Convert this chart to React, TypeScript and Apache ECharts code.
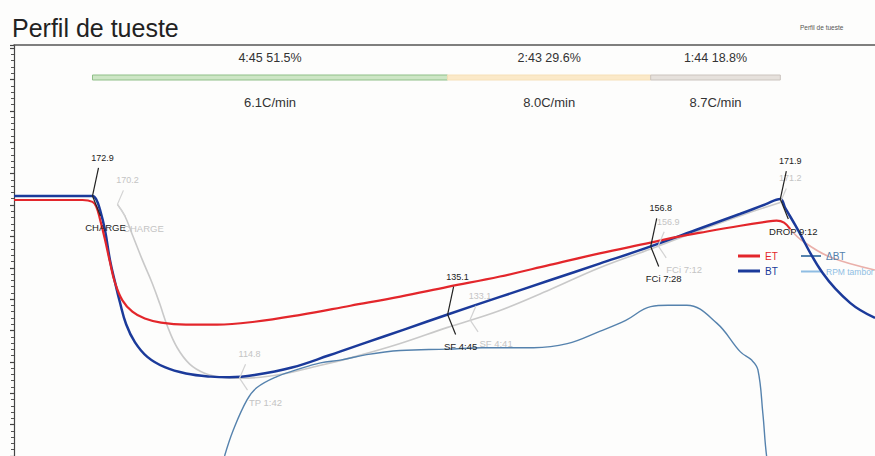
import React, { useEffect, useRef } from "react";
import * as echarts from "echarts";

// ---- Data (time in seconds from CHARGE, temperature in °C) ----
const btTime = [-63, -8, 0, 3, 6, 10, 14, 18, 22, 27, 34, 44, 58, 75, 95, 110, 130, 160, 190, 220, 250, 285, 327, 367, 407, 448, 488, 520, 540, 552, 556, 564, 586, 608, 628];
const btTemp = [172.9, 172.9, 172.9, 171.8, 168.5, 162.0, 152.5, 145.5, 139.0, 132.0, 126.3, 121.6, 118.3, 116.3, 115.3, 115.1, 115.8, 118.2, 122.1, 126.2, 130.3, 135.1, 140.7, 146.0, 151.3, 156.8, 162.6, 167.2, 170.2, 171.9, 169.0, 163.6, 148.3, 138.8, 134.0];

const etTime = [-63, -8, 0, 3, 6, 10, 14, 18, 24, 32, 42, 55, 75, 100, 130, 167, 207, 247, 285, 327, 367, 407, 448, 466, 488, 520, 540, 549, 555, 560];
const etTemp = [171.6, 171.6, 171.0, 169.5, 165.5, 159.0, 151.8, 145.3, 139.6, 136.0, 133.8, 132.5, 131.9, 131.9, 132.8, 135.0, 137.9, 140.8, 143.9, 147.2, 150.9, 154.6, 158.0, 159.6, 161.2, 163.4, 164.6, 165.0, 164.4, 162.3];
const etPostTime = [560, 570, 592, 628];
const etPostTemp = [162.3, 158.5, 153.4, 149.3];

const bgBtTime = [20, 26, 32, 40, 48, 54, 60, 68, 78, 90, 104, 118, 135, 155, 180, 210, 245, 285, 327, 367, 407, 448, 488, 520, 552];
const bgBtTemp = [170.2, 166.5, 160.5, 152.5, 145.0, 138.5, 131.5, 124.5, 119.3, 116.4, 115.1, 114.8, 115.1, 116.3, 118.6, 121.6, 125.6, 131.0, 136.4, 143.0, 150.0, 156.0, 162.0, 166.6, 170.8];

const rorTime = [106, 113, 124, 132, 148, 164, 183, 199, 220, 247, 285, 313, 354, 381, 407, 428, 448, 462, 477, 501, 520, 529, 534, 538, 541, 545];
const rorValue = [0, 1.9, 4.1, 5.0, 5.8, 6.3, 6.8, 7.0, 7.4, 7.7, 7.8, 7.9, 7.9, 8.2, 9.1, 9.9, 10.9, 11.0, 11.0, 9.7, 7.6, 7.0, 6.3, 3.1, 0, -2];

const eventTime = [0, 285, 448, 552];
const eventTemp = [172.9, 135.1, 156.8, 171.9];
const eventValueLabels = ["172.9", "135.1", "156.8", "171.9"];
const eventNames = ["CHARGE", "SF 4:45", "FCi 7:28", "DROP 9:12"];

const bgEventTime = [20, 118, 303, 454, 552];
const bgEventTemp = [170.2, 114.8, 133.4, 157.0, 170.8];
const bgEventValueLabels = ["170.2", "114.8", "133.1", "156.9", "171.2"];
const bgEventNames = ["CHARGE", "TP 1:42", "SF 4:41", "FCi 7:12", ""];

const phaseStart = [0, 285, 448];
const phaseEnd = [285, 448, 552];
const phaseTimeLabels = ["4:45 51.5%", "2:43 29.6%", "1:44 18.8%"];
const phaseRateLabels = ["6.1C/min", "8.0C/min", "8.7C/min"];

// ---- Styles ----
const FONT = "'Liberation Sans', Arial, Helvetica, sans-serif";
const ET_COLOR = "#e3262b";
const BT_COLOR = "#1b3a9a";
const BG_COLOR = "#c9c9c9";
const ROR_COLOR = "#5582ad";
const RPM_COLOR = "#8fbde3";
const phaseFill = ["#cde6c5", "#fbe9c8", "#e6e1dc"];
const phaseStroke = ["#8fbf88", "#f6e0b8", "#cbc4be"];

function pairs(a: number[], b: number[]) {
  return a.map((t, i) => [t, b[i]]);
}

function eventSeries(
  name: string,
  times: number[],
  temps: number[],
  vals: string[],
  names: string[],
  textColor: string,
  lineColor: string,
  upDx: number,
  upDy: number,
  downDx: number,
  downDy: number
) {
  return {
    type: "custom",
    name,
    silent: true,
    z: 10,
    data: pairs(times, temps),
    encode: { x: 0, y: 1 },
    renderItem: (params: any, api: any) => {
      const i = params.dataIndex;
      const p = api.coord([api.value(0), api.value(1)]);
      const children: any[] = [
        {
          type: "line",
          shape: { x1: p[0] + upDx * 0.6, y1: p[1] + upDy + 10, x2: p[0], y2: p[1] },
          style: { stroke: lineColor, lineWidth: 1.2 },
        },
        {
          type: "text",
          style: {
            text: vals[i],
            x: p[0] + upDx,
            y: p[1] + upDy,
            align: "center",
            verticalAlign: "middle",
            fontSize: 9,
            fontFamily: FONT,
            fill: textColor,
          },
        },
      ];
      if (names[i]) {
        children.push(
          {
            type: "line",
            shape: { x1: p[0], y1: p[1], x2: p[0] + 8, y2: p[1] + downDy - 12 },
            style: { stroke: lineColor, lineWidth: 1.2 },
          },
          {
            type: "text",
            style: {
              text: names[i],
              x: p[0] + downDx,
              y: p[1] + downDy,
              align: "center",
              verticalAlign: "middle",
              fontSize: 9.5,
              fontFamily: FONT,
              fill: textColor,
            },
          }
        );
      }
      return { type: "group", children };
    },
  };
}

export default function App() {
  const ref = useRef<HTMLDivElement>(null);

  useEffect(() => {
    const chart = echarts.init(ref.current!, null, { renderer: "svg" });

    const lineCommon = {
      type: "line",
      showSymbol: false,
      smooth: 0.4,
    };

    const option: any = {
      animation: false,
      backgroundColor: "#fdfdfc",
      textStyle: { fontFamily: FONT },
      grid: { left: 14, right: 0, top: 45, bottom: 0, containLabel: false },
      xAxis: {
        type: "value",
        min: -63,
        max: 628,
        position: "top",
        axisLine: { show: true, onZero: false, lineStyle: { color: "#555", width: 1.5 } },
        axisTick: { show: false },
        axisLabel: { show: false },
        splitLine: { show: false },
      },
      yAxis: [
        {
          type: "value",
          min: 90,
          max: 221,
          interval: 10,
          axisLine: { show: true, onZero: false, lineStyle: { color: "#444", width: 1.2 } },
          axisTick: { show: true, length: 4, lineStyle: { color: "#444", width: 1.2 } },
          minorTick: { show: true, splitNumber: 5, length: 3, lineStyle: { color: "#555" } },
          axisLabel: { show: false },
          splitLine: { show: false },
        },
        { type: "value", min: 0, max: 30, show: false },
      ],
      legend: [
        {
          left: 733,
          top: 246,
          orient: "vertical",
          icon: "rect",
          itemWidth: 22,
          itemHeight: 3,
          itemGap: 5,
          selectedMode: false,
          textStyle: { fontSize: 10, fontFamily: FONT },
          data: [
            { name: "ET", textStyle: { color: ET_COLOR } },
            { name: "BT", textStyle: { color: BT_COLOR } },
          ],
        },
        {
          left: 796,
          top: 246,
          orient: "vertical",
          icon: "rect",
          itemWidth: 20,
          itemHeight: 2,
          itemGap: 6,
          selectedMode: false,
          textStyle: { fontSize: 10, fontFamily: FONT },
          data: [
            { name: "ΔBT", textStyle: { color: ROR_COLOR } },
            { name: "RPM tambor", textStyle: { color: RPM_COLOR, fontSize: 8.5 } },
          ],
        },
      ],
      graphic: [
        {
          type: "text",
          left: 12,
          top: 15,
          style: { text: "Perfil de tueste", fontSize: 25, fontFamily: FONT, fill: "#222" },
        },
        {
          type: "text",
          left: 800,
          top: 24,
          style: { text: "Perfil de tueste", fontSize: 6.5, fontFamily: FONT, fill: "#555" },
        },
      ],
      series: [
        {
          ...lineCommon,
          name: "bgBT",
          data: pairs(bgBtTime, bgBtTemp),
          lineStyle: { color: BG_COLOR, width: 1.6 },
          itemStyle: { color: BG_COLOR },
          z: 2,
        },
        {
          ...lineCommon,
          name: "ΔBT",
          yAxisIndex: 1,
          data: pairs(rorTime, rorValue),
          lineStyle: { color: ROR_COLOR, width: 1.4 },
          itemStyle: { color: ROR_COLOR },
          z: 3,
        },
        {
          type: "line",
          name: "RPM tambor",
          data: [],
          showSymbol: false,
          lineStyle: { color: RPM_COLOR, width: 1.2 },
          itemStyle: { color: RPM_COLOR },
        },
        {
          ...lineCommon,
          name: "ETpost",
          data: pairs(etPostTime, etPostTemp),
          lineStyle: { color: "#eab0aa", width: 1.6 },
          itemStyle: { color: "#eab0aa" },
          z: 3,
        },
        {
          ...lineCommon,
          name: "ET",
          data: pairs(etTime, etTemp),
          lineStyle: { color: ET_COLOR, width: 2.2 },
          itemStyle: { color: ET_COLOR },
          z: 5,
        },
        {
          ...lineCommon,
          name: "BT",
          data: pairs(btTime, btTemp),
          lineStyle: { color: BT_COLOR, width: 2.5 },
          itemStyle: { color: BT_COLOR },
          z: 4,
        },
        eventSeries("bgEvents", bgEventTime, bgEventTemp, bgEventValueLabels, bgEventNames, "#c4c4c4", "#d2d2d2", 10, -24, 26, 24),
        eventSeries("events", eventTime, eventTemp, eventValueLabels, eventNames, "#222", "#222", 10, -38, 13, 32),
        {
          type: "custom",
          name: "phases",
          silent: true,
          z: 8,
          data: phaseStart.map((s, i) => [s, phaseEnd[i]]),
          encode: { x: [0, 1] },
          renderItem: (params: any, api: any) => {
            const i = params.dataIndex;
            const x0 = api.coord([api.value(0), 150])[0];
            const x1 = api.coord([api.value(1), 150])[0];
            const top = params.coordSys.y;
            const cx = (x0 + x1) / 2;
            return {
              type: "group",
              children: [
                {
                  type: "rect",
                  shape: { x: x0, y: top + 30, width: x1 - x0, height: 5 },
                  style: { fill: phaseFill[i], stroke: phaseStroke[i], lineWidth: 1 },
                },
                {
                  type: "text",
                  style: {
                    text: phaseTimeLabels[i],
                    x: cx,
                    y: top + 13,
                    align: "center",
                    verticalAlign: "middle",
                    fontSize: 12.5,
                    fontFamily: FONT,
                    fill: "#333",
                  },
                },
                {
                  type: "text",
                  style: {
                    text: phaseRateLabels[i],
                    x: cx,
                    y: top + 57,
                    align: "center",
                    verticalAlign: "middle",
                    fontSize: 13,
                    fontFamily: FONT,
                    fill: "#333",
                  },
                },
              ],
            };
          },
        },
      ],
    };

    chart.setOption(option);
    return () => {
      chart.dispose();
    };
  }, []);

  return (
    <div
      ref={ref}
      style={{ position: "fixed", left: 0, top: 0, width: 875, height: 456 }}
    />
  );
}
